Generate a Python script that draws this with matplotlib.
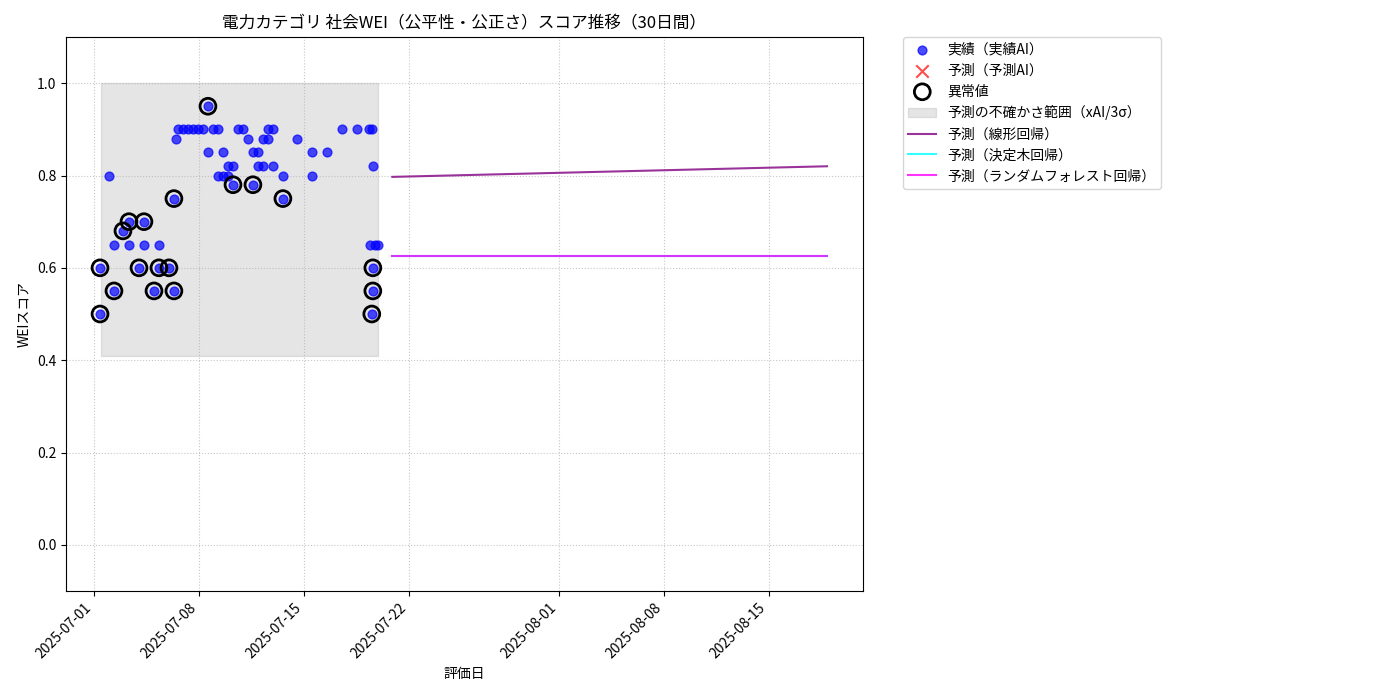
import matplotlib
matplotlib.use("Agg")
import matplotlib.pyplot as plt
import matplotlib.dates as mdates
import numpy as np
from datetime import datetime, timedelta

plt.rcParams['font.family'] = ['Noto Sans CJK JP', 'DejaVu Sans']

base = datetime(2025, 7, 1)
# actual observations: day offset from 2025-07-01, score
act_days = [0.4,0.4,1.0,1.33,1.33,1.93,2.33,2.33,3.0,3.33,3.33,4.0,4.33,4.33,5.0,5.33,5.33,5.47,5.6,5.93,6.27,6.6,6.93,7.27,7.6,7.6,7.93,8.27,8.27,8.6,8.6,8.93,8.93,9.27,9.27,9.6,9.93,10.27,10.6,10.6,10.93,10.93,11.27,11.27,11.6,11.6,11.93,11.93,12.6,12.6,13.53,14.53,14.53,15.53,16.53,17.53,18.33,18.53,18.6,18.4,18.73,18.93,18.6,18.6,18.53]
act_vals = [0.60,0.50,0.80,0.65,0.55,0.68,0.70,0.65,0.60,0.70,0.65,0.55,0.65,0.60,0.60,0.75,0.55,0.88,0.90,0.90,0.90,0.90,0.90,0.90,0.95,0.85,0.90,0.90,0.80,0.85,0.80,0.82,0.80,0.78,0.82,0.90,0.90,0.88,0.85,0.78,0.85,0.82,0.88,0.82,0.90,0.88,0.90,0.82,0.80,0.75,0.88,0.85,0.80,0.85,0.90,0.90,0.90,0.90,0.82,0.65,0.65,0.65,0.60,0.55,0.50]
anom_days = [0.4,0.4,1.33,1.93,2.33,3.0,3.33,4.0,4.33,5.0,5.33,5.33,7.6,9.27,10.6,12.6,18.6,18.6,18.53]
anom_vals = [0.60,0.50,0.55,0.68,0.70,0.60,0.70,0.55,0.60,0.60,0.75,0.55,0.95,0.78,0.78,0.75,0.60,0.55,0.50]
pred_days = [19.9, 48.9]
lin_vals = [0.797, 0.820]
tree_vals = [0.625, 0.625]
rf_vals = [0.625, 0.625]
band_days = [0.47, 18.93]
band_lo, band_hi = 0.41, 1.0

d = lambda arr: [base + timedelta(days=x) for x in arr]

fig = plt.figure(figsize=(14, 7), dpi=100)
ax = fig.add_axes([66/1400, 1-591/700, (863-66)/1400, (591-37)/700])
ax.scatter(d(act_days), act_vals, color='blue', alpha=0.7, s=40, label='実績（実績AI）', zorder=3)
ax.scatter([], [], color='red', marker='x', s=80, alpha=0.7, label='予測（予測AI）')
ax.scatter(d(anom_days), anom_vals, facecolors='none', edgecolors='black', linewidths=2, s=130, label='異常値', zorder=4)
ax.fill_between(d(band_days), band_lo, band_hi, color='gray', alpha=0.2, label='予測の不確かさ範囲（xAI/3σ）')
ax.plot(d(pred_days), lin_vals, color='purple', alpha=0.8, label='予測（線形回帰）')
ax.plot(d(pred_days), tree_vals, color='cyan', alpha=0.8, label='予測（決定木回帰）')
ax.plot(d(pred_days), rf_vals, color='magenta', alpha=0.8, label='予測（ランダムフォレスト回帰）')

ax.set_xlim(base + timedelta(days=-1.87), base + timedelta(days=51.3))
ax.set_ylim(-0.1, 1.1)
ax.set_xticks([datetime(2025,7,1), datetime(2025,7,8), datetime(2025,7,15), datetime(2025,7,22),
               datetime(2025,8,1), datetime(2025,8,8), datetime(2025,8,15)])
ax.xaxis.set_major_formatter(mdates.DateFormatter('%Y-%m-%d'))
plt.setp(ax.get_xticklabels(), rotation=45, ha='right')
ax.grid(True, linestyle=':', alpha=0.7)
ax.set_title('電力カテゴリ 社会WEI（公平性・公正さ）スコア推移（30日間）')
ax.set_xlabel('評価日')
ax.set_ylabel('WEIスコア')
ax.legend(loc='upper left', bbox_to_anchor=(1.05, 1.0), borderaxespad=0)
fig.savefig('out.png')
